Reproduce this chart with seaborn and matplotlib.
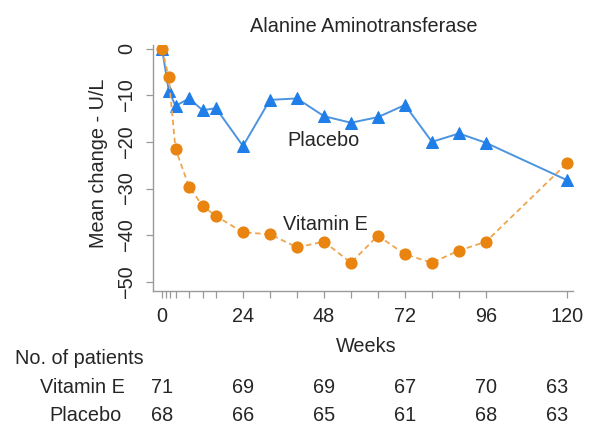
import matplotlib
matplotlib.use("Agg")
import matplotlib.pyplot as plt
import matplotlib.transforms as mtransforms
import seaborn as sns
import pandas as pd

weeks = [0, 2, 4, 8, 12, 16, 24, 32, 40, 48, 56, 64, 72, 80, 88, 96, 120]
vitamin_e = [0, -6.2, -21.5, -29.6, -33.7, -35.9, -39.4, -39.8, -42.6, -41.4,
             -45.9, -40.1, -44.1, -45.9, -43.3, -41.4, -24.6]
placebo = [0, -9.0, -12.3, -10.7, -13.2, -12.8, -20.9, -11.0, -10.7, -14.5,
           -15.9, -14.7, -12.1, -20.0, -18.2, -20.2, -28.2]

minor_tick_weeks = [0, 1.2, 2.4, 4, 8, 12, 16, 24, 32, 40, 48, 56, 64, 72, 80, 88, 96, 120]
label_weeks = [0, 24, 48, 72, 96, 120]
y_ticks = [0, -10, -20, -30, -40, -50]

n_vitamin_e = [71, 69, 69, 67, 70, 63]
n_placebo = [68, 66, 65, 61, 68, 63]

title = "Alanine Aminotransferase"
FS = 14.3

sns.set_theme(style="white")
plt.rcParams["font.family"] = ["Liberation Sans", "DejaVu Sans"]

df = pd.DataFrame({
    "week": weeks * 2,
    "change": vitamin_e + placebo,
    "group": ["Vitamin E"] * len(weeks) + ["Placebo"] * len(weeks),
})

fig = plt.figure(figsize=(6, 4.44), dpi=100)
ax = fig.add_axes([0.255, 0.3446, 0.70, 0.554])

blue = "#1f7ee8"
blue_line = "#4d94e0"
orange = "#e8840f"
orange_line = "#efa550"

sns.lineplot(data=df[df.group == "Placebo"], x="week", y="change", ax=ax,
             color=blue_line, lw=1.4, marker="^", markersize=9,
             markerfacecolor=blue, markeredgecolor=blue, zorder=3)
sns.lineplot(data=df[df.group == "Vitamin E"], x="week", y="change", ax=ax,
             color=orange_line, lw=1.3, linestyle=(0, (3, 2)), marker="o",
             markersize=8, markerfacecolor=orange, markeredgecolor=orange, zorder=4)

ax.set_xlim(-2.67, 121.8)
ax.set_ylim(-51.96, 0.75)

ax.set_xticks(minor_tick_weeks)
ax.set_xticklabels([str(int(w)) if w in label_weeks else "" for w in minor_tick_weeks])
ax.set_yticks(y_ticks)
ax.set_yticklabels([f"{v}".replace("-", "\u2212") for v in y_ticks], rotation=90, va="center")

ax.tick_params(axis="both", which="major", direction="out", length=5, width=0.9,
               color="#999999", labelsize=FS, bottom=True, left=True)
ax.tick_params(axis="x", pad=6.5)
ax.tick_params(axis="y", pad=7)
for s in ["top", "right"]:
    ax.spines[s].set_visible(False)
for s in ["left", "bottom"]:
    ax.spines[s].set_color("#999999")
    ax.spines[s].set_linewidth(1.0)

ax.set_xlabel("Weeks", fontsize=FS)
ax.set_ylabel("Mean change - U/L", fontsize=FS)
ax.xaxis.set_label_coords(0.507, -0.185)
ax.yaxis.set_label_coords(-0.108, 0.52)
fig.text(364 / 600, 1 - 26 / 444, title, fontsize=FS, ha="center", va="center")

ax.text(48, -19.8, "Placebo", fontsize=FS, ha="center", va="center")
ax.text(48.3, -37.8, "Vitamin E", fontsize=FS, ha="center", va="center")

# Number of patients table
fig.text(15 / 600, 1 - 358 / 444, "No. of patients", fontsize=FS, ha="left", va="center")
fig.text(125 / 600, 1 - 387 / 444, "Vitamin E", fontsize=FS, ha="right", va="center")
fig.text(122 / 600, 1 - 415 / 444, "Placebo", fontsize=FS, ha="right", va="center")
blend = mtransforms.blended_transform_factory(ax.transData, fig.transFigure)
for w, a, b in zip(label_weeks, n_vitamin_e, n_placebo):
    xo = w if w < 120 else 117
    ax.text(xo, 1 - 387 / 444, str(a), transform=blend, fontsize=FS, ha="center", va="center")
    ax.text(xo, 1 - 415 / 444, str(b), transform=blend, fontsize=FS, ha="center", va="center")

fig.savefig("out.png", dpi=100)
